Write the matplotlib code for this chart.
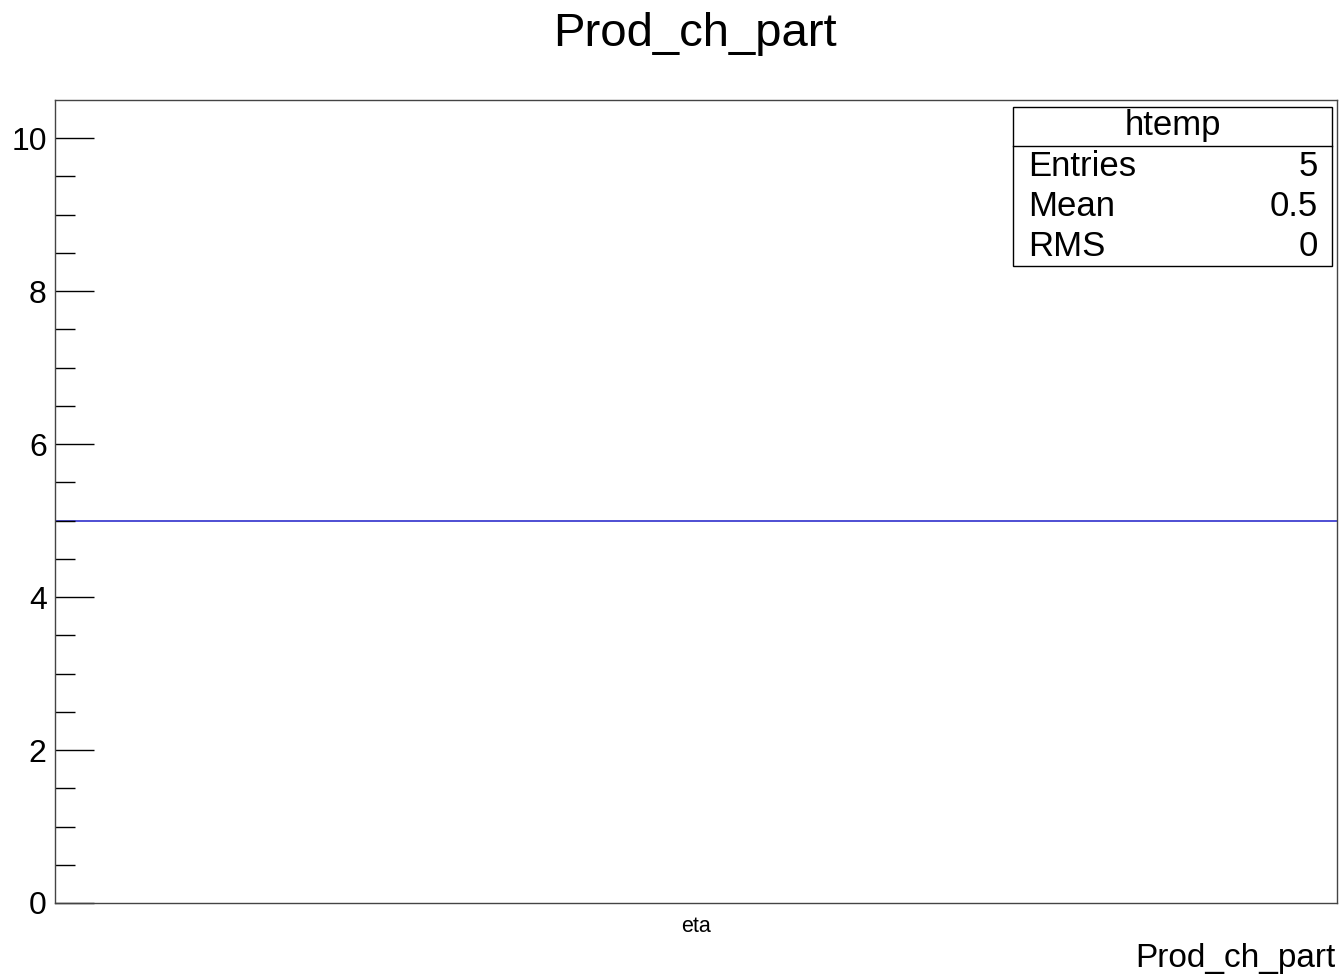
import matplotlib
matplotlib.use("Agg")
import matplotlib.pyplot as plt
import numpy as np
from matplotlib.ticker import FixedLocator

plt.rcParams['font.family'] = ['Liberation Sans', 'DejaVu Sans']

categories = ["eta"]
values = [5]
y_ticks = [0, 2, 4, 6, 8, 10]
stats_labels = ["Entries", "Mean", "RMS"]
stats_values = ["5", "0.5", "0"]

W, H = 1341, 977
fig = plt.figure(figsize=(W/100, H/100), dpi=100)
ax = fig.add_axes([55/W, 1-903/H, (1337-55)/W, (903-100)/H])

edges = np.arange(len(categories)+1)
ax.stairs(values, edges, color="#3030cc", linewidth=1.2, baseline=None)
ax.set_xlim(0, len(categories))
ax.set_ylim(0, 10.5)

ax.set_xticks(edges[:-1] + 0.5)
ax.set_xticklabels(categories, fontsize=15.5)
ax.tick_params(axis='x', length=0, pad=9)
ax.set_yticks(y_ticks)
minor = [m for m in np.arange(0.5, 10.0, 0.5) if m not in y_ticks]
ax.yaxis.set_minor_locator(FixedLocator(minor))
ax.tick_params(axis='y', which='major', direction='in', length=28, width=1, labelsize=23, pad=6)
ax.tick_params(axis='y', which='minor', direction='in', length=14.4, width=1)
for s in ax.spines.values():
    s.set_linewidth(1)
    s.set_color("#444444")

fig.text(695/W, 1-34/H, "Prod_ch_part", fontsize=34, ha='center', va='center')
fig.text(1336/W, 1-958/H, "Prod_ch_part", fontsize=24, ha='right', va='center')

# stats box
bx0, bx1, by0, by1 = 1013, 1332, 107, 266
box = plt.Rectangle((bx0/W, 1-by1/H), (bx1-bx0)/W, (by1-by0)/H, transform=fig.transFigure,
                    fill=True, facecolor='white', edgecolor='black', linewidth=1)
fig.add_artist(box)
fig.add_artist(plt.Line2D([bx0/W, bx1/W], [1-146/H, 1-146/H], transform=fig.transFigure,
                          color='black', linewidth=1))
fig.text((bx0+bx1)/2/W, 1-126/H, "htemp", fontsize=25, ha='center', va='center')
rows_y = [166, 207, 246]
for lab, val, ry in zip(stats_labels, stats_values, rows_y):
    fig.text(1028/W, 1-ry/H, lab, fontsize=25, ha='left', va='center')
    fig.text(1318/W, 1-ry/H, val, fontsize=25, ha='right', va='center')

fig.savefig("out.png", dpi=100)
